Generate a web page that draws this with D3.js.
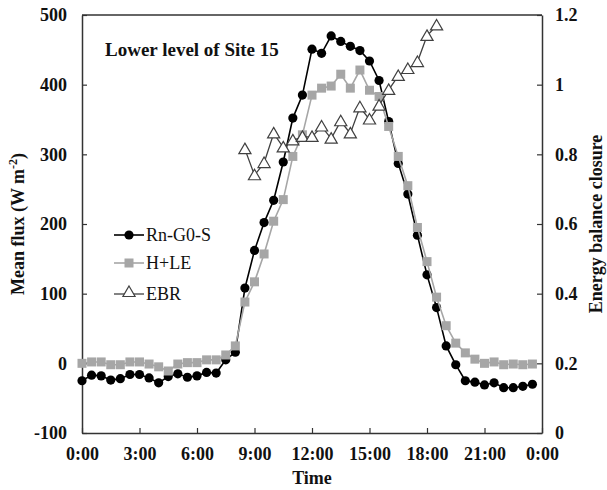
<!DOCTYPE html>
<html>
<head>
<meta charset="utf-8">
<script src="https://cdn.jsdelivr.net/npm/d3@7/dist/d3.min.js"></script>
<style>
html,body{margin:0;padding:0;background:#fff;}
svg{display:block;}
</style>
</head>
<body>
<svg id="chart" width="607" height="490"></svg>
<script>
// ---- data ----
const hours = d3.range(0, 24, 0.5); // half-hourly, 0:00 .. 23:30
const rnG0S = [-25,-17,-18,-24,-22,-16,-16,-21,-28,-19,-15,-20,-18,-13,-14,5,
  16,108,162,202,234,289,352,385,451,445,470,462,455,449,434,406,
  347,287,243,184,127,80,25,-2,-25,-27,-31,-28,-35,-35,-33,-30];
const hLE = [0,2,2,-2,-2,2,2,-1,-5,-11,-1,1,1,5,5,12,
  25,88,117,157,204,235,297,328,385,395,398,415,395,421,392,383,
  340,297,255,195,146,95,54,29,15,6,0,2,-2,-1,-2,-1];
const ebrHours = d3.range(8.5, 19, 0.5); // 8:30 .. 18:30
const ebr = [0.815,0.74,0.775,0.86,0.82,0.84,0.85,0.85,0.88,0.845,0.895,0.86,
  0.935,0.90,0.94,0.985,1.025,1.045,1.065,1.14,1.17];
const xTicks = [0,3,6,9,12,15,18,21,24];
const xTickLabels = ["0:00","3:00","6:00","9:00","12:00","15:00","18:00","21:00","0:00"];
const yLeftTicks = [-100,0,100,200,300,400,500];
const yLeftLabels = ["-100","0","100","200","300","400","500"];
const yRightTicks = [0,0.2,0.4,0.6,0.8,1,1.2];
const yRightLabels = ["0","0.2","0.4","0.6","0.8","1","1.2"];
const seriesNames = ["Rn-G0-S","H+LE","EBR"];
const title = "Lower level of Site 15";

// ---- layout ----
const L = 82, R = 542, T = 15, B = 433;
const svg = d3.select("#chart");
const font = "'Liberation Serif','Times New Roman',serif";

const x = d3.scaleLinear().domain([0,24]).range([L,R]);
const yL = d3.scaleLinear().domain([-100,500]).range([B,T]);
const yR = d3.scaleLinear().domain([0,1.2]).range([B,T]);

const axisColor = "#333";

// axes with inward ticks
const gx = svg.append("g").attr("transform",`translate(0,${B})`)
  .call(d3.axisBottom(x).tickValues(xTicks).tickSizeInner(-5).tickSizeOuter(0)
    .tickFormat((d,i)=>xTickLabels[i]).tickPadding(14));
const gyl = svg.append("g").attr("transform",`translate(${L},0)`)
  .call(d3.axisLeft(yL).tickValues(yLeftTicks).tickSizeInner(-5).tickSizeOuter(0)
    .tickFormat((d,i)=>yLeftLabels[i]).tickPadding(15));
const gyr = svg.append("g").attr("transform",`translate(${R},0)`)
  .call(d3.axisRight(yR).tickValues(yRightTicks).tickSizeInner(-5).tickSizeOuter(0)
    .tickFormat((d,i)=>yRightLabels[i]).tickPadding(13));
[gx,gyl,gyr].forEach(g=>{
  g.selectAll(".domain").attr("stroke",axisColor).attr("stroke-width",1.5);
  g.selectAll(".tick line").attr("stroke",axisColor).attr("stroke-width",1.2);
  g.selectAll(".tick text").attr("fill","#111").style("font-family",font)
    .style("font-size","18px").style("font-weight","bold");
});
// top border
svg.append("line").attr("x1",L).attr("x2",R).attr("y1",T).attr("y2",T)
  .attr("stroke",axisColor).attr("stroke-width",1.5);

// ---- series ----
const lineRn = d3.line().x((d,i)=>x(hours[i])).y(d=>yL(d));
svg.append("path").datum(rnG0S).attr("d",lineRn).attr("fill","none")
  .attr("stroke","#000").attr("stroke-width",1.6);
svg.append("g").selectAll("circle").data(rnG0S).join("circle")
  .attr("cx",(d,i)=>x(hours[i])).attr("cy",d=>yL(d)).attr("r",4.6).attr("fill","#000");

svg.append("path").datum(hLE).attr("d",lineRn).attr("fill","none")
  .attr("stroke","#a6a6a6").attr("stroke-width",1.6);
svg.append("g").selectAll("rect").data(hLE).join("rect")
  .attr("x",(d,i)=>x(hours[i])-4.5).attr("y",d=>yL(d)-4.5)
  .attr("width",9).attr("height",9).attr("fill","#a6a6a6");

const lineE = d3.line().x((d,i)=>x(ebrHours[i])).y(d=>yR(d));
svg.append("path").datum(ebr).attr("d",lineE).attr("fill","none")
  .attr("stroke","#404040").attr("stroke-width",1.3);
const tri = d3.symbol().type(d3.symbolTriangle).size(64);
svg.append("g").selectAll("path").data(ebr).join("path")
  .attr("d",tri).attr("transform",(d,i)=>`translate(${x(ebrHours[i])},${yR(d)+1})`)
  .attr("fill","#fff").attr("stroke","#404040").attr("stroke-width",1.2);

// ---- texts ----
svg.append("text").attr("x",105).attr("y",56).text(title)
  .style("font-family",font).style("font-size","19px").style("font-weight","bold").attr("fill","#111");

svg.append("text").attr("x",312).attr("y",484).attr("text-anchor","middle").text("Time")
  .style("font-family",font).style("font-size","18px").style("font-weight","bold").attr("fill","#111");

const yt = svg.append("text").attr("transform",`translate(24,${(T+B)/2}) rotate(-90)`)
  .attr("text-anchor","middle")
  .style("font-family",font).style("font-size","18px").style("font-weight","bold").attr("fill","#111");
yt.append("tspan").text("Mean flux (W m");
yt.append("tspan").text("-2").attr("dy",-7).style("font-size","12px");
yt.append("tspan").text(")").attr("dy",7);

svg.append("text").attr("transform",`translate(602,${(T+B)/2}) rotate(-90)`)
  .attr("text-anchor","middle").text("Energy balance closure")
  .style("font-family",font).style("font-size","18px").style("font-weight","bold").attr("fill","#111");

// ---- legend ----
const lg = svg.append("g");
const rows = [235,263,294];
const lx1 = 114, lx2 = 144, lm = 129;
lg.append("line").attr("x1",lx1).attr("x2",lx2).attr("y1",rows[0]).attr("y2",rows[0]).attr("stroke","#000").attr("stroke-width",1.6);
lg.append("circle").attr("cx",lm).attr("cy",rows[0]).attr("r",4.6).attr("fill","#000");
lg.append("line").attr("x1",lx1).attr("x2",lx2).attr("y1",rows[1]).attr("y2",rows[1]).attr("stroke","#a6a6a6").attr("stroke-width",1.6);
lg.append("rect").attr("x",lm-4.5).attr("y",rows[1]-4.5).attr("width",9).attr("height",9).attr("fill","#a6a6a6");
lg.append("line").attr("x1",lx1).attr("x2",lx2).attr("y1",rows[2]).attr("y2",rows[2]).attr("stroke","#404040").attr("stroke-width",1.3);
lg.append("path").attr("d",tri).attr("transform",`translate(${lm},${rows[2]-1})`)
  .attr("fill","#fff").attr("stroke","#404040").attr("stroke-width",1.2);
lg.selectAll("text").data(seriesNames).join("text")
  .attr("x",146).attr("y",(d,i)=>rows[i]+6).text(d=>d)
  .style("font-family",font).style("font-size","18px").attr("fill","#111");
</script>
</body>
</html>
